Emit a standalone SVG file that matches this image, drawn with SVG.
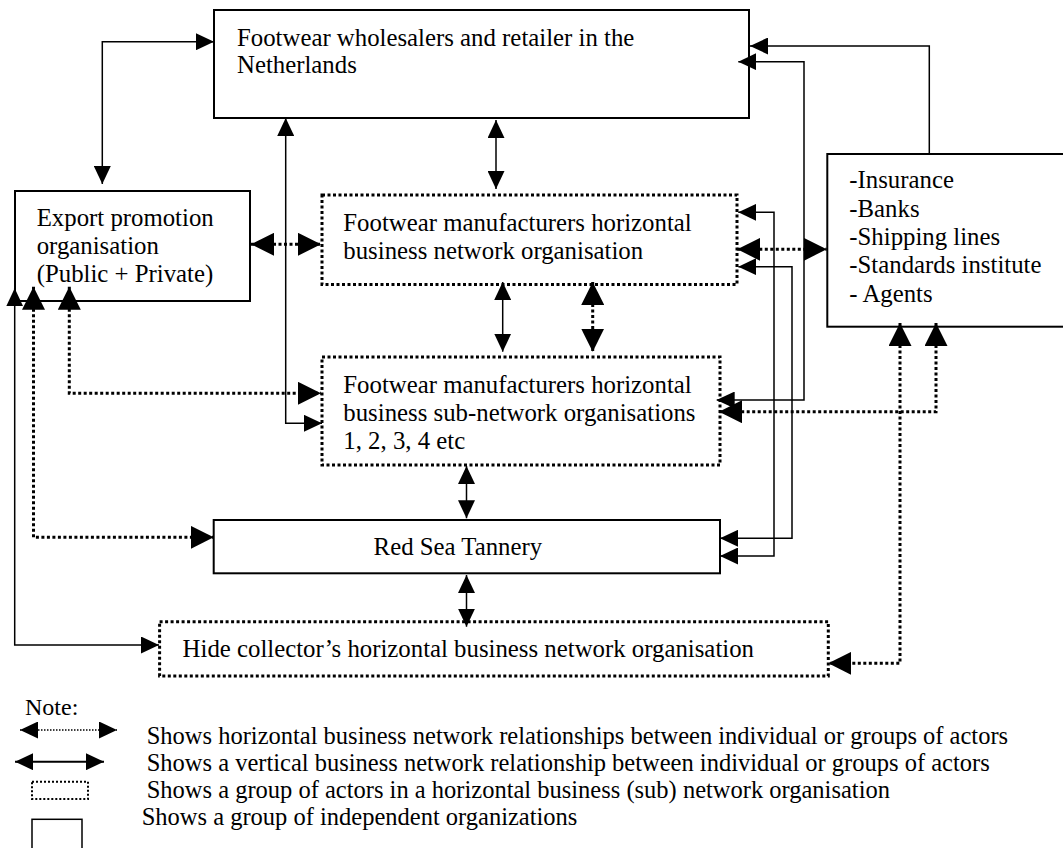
<svg xmlns="http://www.w3.org/2000/svg" width="1063" height="848" viewBox="0 0 1063 848">
<style>
text{font-family:"Liberation Serif","Times New Roman",serif;font-size:24.8px;fill:#000}
.lg{font-size:24.5px}
.box{fill:#fff;stroke:#000;stroke-width:2}
.dbox{fill:#fff;stroke:#000;stroke-width:3;stroke-dasharray:3 2.5}
.sl{fill:none;stroke:#000;stroke-width:1.5}
.dl{fill:none;stroke:#000;stroke-width:3;stroke-dasharray:3 2.5}
.s2{marker-start:url(#a);marker-end:url(#a)}
.s1{marker-end:url(#a)}
.d2{marker-start:url(#b);marker-end:url(#b)}
</style>
<defs>
<marker id="a" viewBox="0 0 18 17" refX="18" refY="8.5" markerWidth="18" markerHeight="17" markerUnits="userSpaceOnUse" orient="auto-start-reverse"><path d="M0,0 L18,8.5 L0,17 Z" fill="#000" stroke="none"/></marker>
<marker id="b" viewBox="0 0 23 23" refX="23" refY="11.5" markerWidth="23" markerHeight="23" markerUnits="userSpaceOnUse" orient="auto-start-reverse"><path d="M0,0 L23,11.5 L0,23 Z" fill="#000" stroke="none"/></marker>
</defs>
<rect width="1063" height="848" fill="#fff"/>

<g id="wholesalers">
<rect class="box" x="214" y="10" width="535" height="108"/>
<text x="237" y="45.7">Footwear wholesalers and retailer in the</text>
<text x="237" y="73.3">Netherlands</text>
</g>
<g id="export">
<rect class="box" x="15" y="191" width="235" height="110"/>
<text x="36.7" y="226">Export promotion</text>
<text x="36.7" y="254">organisation</text>
<text x="36.7" y="282">(Public + Private)</text>
</g>
<g id="network">
<rect class="dbox" x="322" y="195" width="415" height="89.5"/>
<text x="343.3" y="230.5">Footwear manufacturers horizontal</text>
<text x="343.3" y="258.5">business network organisation</text>
</g>
<g id="subnetwork">
<rect class="dbox" x="322" y="357" width="398" height="108"/>
<text x="343.3" y="392.7">Footwear manufacturers horizontal</text>
<text x="343.3" y="420.7">business sub-network organisations</text>
<text x="343.3" y="449">1, 2, 3, 4 etc</text>
</g>
<g id="services">
<rect class="box" x="827.3" y="154" width="260" height="172.7"/>
<text x="849.3" y="188.3">-Insurance</text>
<text x="849.3" y="216.7">-Banks</text>
<text x="849.3" y="245">-Shipping lines</text>
<text x="849.3" y="273.3">-Standards institute</text>
<text x="849.3" y="301.7">- Agents</text>
</g>
<g id="tannery">
<rect class="box" x="213.7" y="520" width="506.3" height="53.3"/>
<text x="373.6" y="555">Red Sea Tannery</text>
</g>
<g id="hidecollector">
<rect class="dbox" x="159.6" y="621.7" width="668.7" height="54.3"/>
<text x="182.6" y="656.7">Hide collector’s horizontal business network organisation</text>
</g>

<g id="connectors">
<path class="sl s2" d="M102.3,184 V41.7 H214"/>
<path class="sl s2" d="M285.7,118 V423.3 H322"/>
<path class="sl s2" d="M496,120 V189"/>
<path class="sl s2" d="M502.7,282 V351.7"/>
<path class="sl s2" d="M466.5,466 V518.3"/>
<path class="sl s2" d="M466.5,575 V626.7"/>
<path class="sl s1" d="M929.3,154 V46 H750"/>
<path class="sl s2" d="M738.3,61.7 H804 V400 H716.7"/>
<path class="sl s2" d="M738.3,212.3 H774 V556 H720"/>
<path class="sl s2" d="M738.3,266.7 H792 V538.3 H720"/>
<path class="sl s2" d="M14.7,288.3 V645 H159"/>
<path class="dl d2" d="M251,244.3 H321"/>
<path class="dl d2" d="M592.7,282 V351.7"/>
<path class="dl d2" d="M737.3,249.3 H826.7"/>
<path class="dl d2" d="M69.3,286.7 V393.3 H321"/>
<path class="dl d2" d="M33.5,286.7 V537.3 H213.7"/>
<path class="dl d2" d="M936,323 V411.7 H719"/>
<path class="dl d2" d="M900,323 V663.3 H828.3"/>
</g>

<g id="legend">
<text x="25" y="715" style="font-size:24px">Note:</text>
<path d="M20,730 H117" fill="none" stroke="#000" stroke-width="1.5" stroke-dasharray="1.5 1.5" marker-start="url(#a)" marker-end="url(#a)"/>
<text class="lg" x="146.7" y="744">Shows horizontal business network relationships between individual or groups of actors</text>
<path d="M15,761.7 H104" fill="none" stroke="#000" stroke-width="2" marker-start="url(#a)" marker-end="url(#a)"/>
<text class="lg" x="146.7" y="770.7">Shows a vertical business network relationship between individual or groups of actors</text>
<rect x="32" y="781.7" width="56" height="17.3" fill="none" stroke="#000" stroke-width="2" stroke-dasharray="2 2"/>
<text class="lg" x="146.7" y="798.3">Shows a group of actors in a horizontal business (sub) network organisation</text>
<rect x="32" y="819.3" width="50" height="40" fill="none" stroke="#000" stroke-width="1.5"/>
<text class="lg" x="141.7" y="825">Shows a group of independent organizations</text>
</g>
</svg>
